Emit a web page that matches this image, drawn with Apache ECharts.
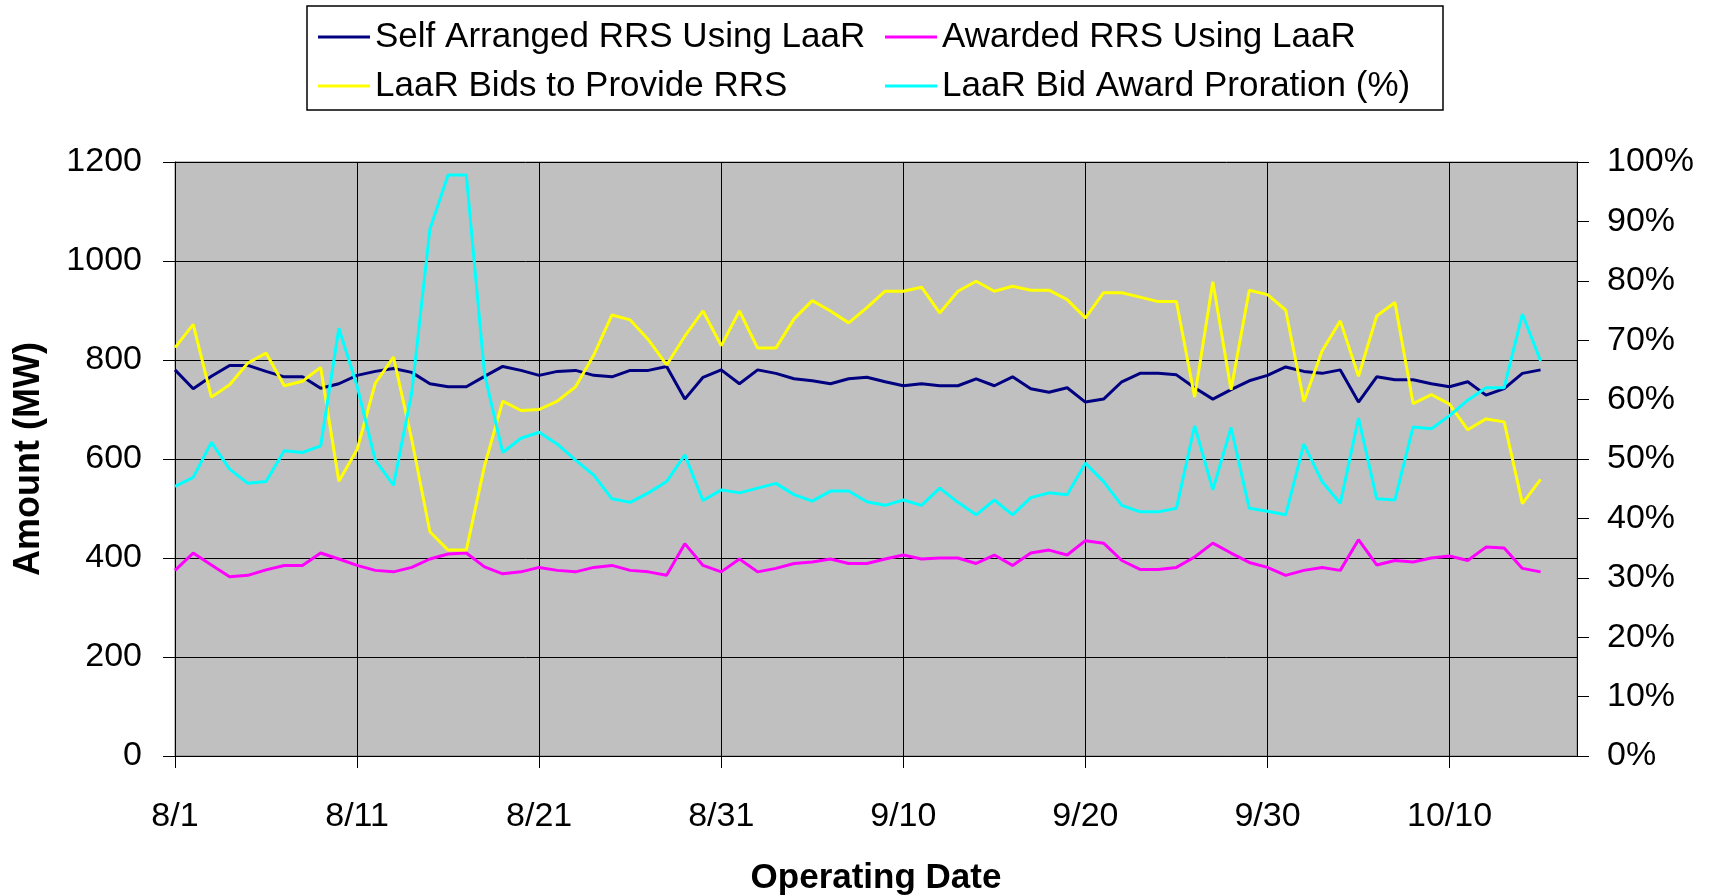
<!DOCTYPE html>
<html>
<head>
<meta charset="utf-8">
<title>LaaR RRS</title>
<script src="https://cdn.jsdelivr.net/npm/echarts@6/dist/echarts.min.js"></script>
<style>
  html, body { margin: 0; padding: 0; background: #fff; }
  #chart { width: 1717px; height: 896px; }
</style>
</head>
<body>
<div id="chart"></div>
<script>
// operating dates 8/1 .. 10/17 (axis runs two days past the last data point)
const monthDays = [[8, 31], [9, 30], [10, 17]]
const dates = []
monthDays.forEach(([m, n]) => {
  for (let d = 1; d <= n; d++) dates.push(m + '/' + d)
})

// MW, 8/1 .. 10/15
const selfArranged = [
  780, 742, 767, 789, 789, 777, 766, 766, 743, 752, 769, 777, 783, 775, 752, 746, 746, 767, 787, 779,
  769, 777, 779, 769, 766, 779, 779, 787, 721, 765, 780,
  752, 780, 773, 762, 758, 752, 762, 765, 756, 748, 752, 748, 748, 762, 748, 766, 742, 735, 744, 715,
  721, 756, 773, 773, 770, 744, 721, 740, 758, 769,
  786, 777, 773, 780, 715, 766, 760, 760, 752, 746, 756, 729, 742, 773, 780
]
const awarded = [
  375, 410, 386, 362, 365, 376, 385, 385, 410, 398, 385, 375, 372, 381, 398, 408, 410, 382, 368, 372,
  381, 375, 372, 381, 385, 375, 372, 365, 429, 385, 372,
  398, 372, 379, 389, 392, 398, 389, 389, 398, 406, 398, 400, 400, 389, 406, 385, 410, 416, 406, 435,
  430, 395, 377, 377, 381, 402, 430, 410, 391, 381,
  365, 375, 381, 375, 437, 386, 395, 392, 400, 404, 395, 422, 420, 379, 372
]
const bids = [
  825, 872, 725, 750, 794, 814, 748, 757, 785, 555, 619, 753, 806, 640, 453, 416, 416, 586, 717, 698,
  700, 717, 746, 810, 891, 881, 841, 790, 848, 899, 829,
  899, 824, 824, 883, 920, 899, 875, 906, 939, 939, 947, 895, 939, 959, 939, 949, 941, 941, 922, 885,
  936, 936, 927, 918, 918, 725, 958, 740, 941, 932,
  901, 716, 818, 879, 767, 889, 916, 712, 730, 711, 659, 681, 675, 510, 559
]
// percent, right axis
const proration = [
  45.4, 46.9, 52.8, 48.3, 45.9, 46.2, 51.4, 51.1, 52.2, 72.0, 62.3, 49.8, 45.6, 61.1, 88.7, 97.8, 97.8, 64.3, 51.1, 53.5,
  54.5, 52.5, 49.8, 47.3, 43.3, 42.7, 44.3, 46.2, 50.7, 43.0, 44.8,
  44.3, 45.1, 45.9, 44.0, 42.9, 44.6, 44.6, 42.8, 42.2, 43.1, 42.2, 45.1, 42.7, 40.6, 43.1, 40.6, 43.5, 44.3, 44.0, 49.3,
  46.2, 42.2, 41.1, 41.1, 41.7, 55.6, 44.8, 55.3, 41.7, 41.2,
  40.6, 52.5, 46.2, 42.5, 56.9, 43.3, 43.1, 55.4, 55.1, 57.3, 59.9, 62.0, 62.0, 74.4, 66.5
]

const font = 'Liberation Sans, Arial, sans-serif'

const chart = echarts.init(document.getElementById('chart'))

const legendBase = {
  orient: 'vertical',
  top: 17,
  padding: 0,
  icon: 'rect',
  itemWidth: 52,
  itemHeight: 3,
  itemGap: 9,
  selectedMode: false,
  textStyle: { fontSize: 35, lineHeight: 40, color: '#000', fontFamily: font }
}

const option = {
  animation: false,
  backgroundColor: '#fff',
  textStyle: { fontFamily: font },
  legend: [
    Object.assign({}, legendBase, { left: 318, data: ['Self Arranged RRS Using LaaR', 'LaaR Bids to Provide RRS'] }),
    Object.assign({}, legendBase, { left: 885, data: ['Awarded RRS Using LaaR', 'LaaR Bid Award Proration (%)'] })
  ],
  graphic: [{
    type: 'rect',
    shape: { x: 307, y: 6, width: 1136, height: 104 },
    style: { fill: 'none', stroke: '#000', lineWidth: 1.5 }
  }],
  grid: {
    left: 175, right: 140, top: 162, bottom: 140,
    outerBoundsMode: 'none',
    show: true,
    backgroundColor: '#C0C0C0',
    borderColor: '#808080',
    borderWidth: 1
  },
  xAxis: {
    type: 'category',
    data: dates,
    boundaryGap: false,
    name: 'Operating Date',
    nameLocation: 'middle',
    nameGap: 105,
    nameTextStyle: { fontSize: 35, fontWeight: 'bold', color: '#000', fontFamily: font },
    axisLine: { lineStyle: { color: '#000', width: 1 } },
    axisTick: { interval: 9, length: 12, lineStyle: { color: '#000' } },
    axisLabel: { interval: 9, margin: 44, fontSize: 34, color: '#000', fontFamily: font },
    splitLine: { show: true, interval: 9, lineStyle: { color: '#000', width: 1 } }
  },
  yAxis: [
    {
      type: 'value',
      min: 0, max: 1200, interval: 200,
      name: 'Amount (MW)',
      nameLocation: 'middle',
      nameGap: 128,
      nameTextStyle: { fontSize: 36, fontWeight: 'bold', color: '#000', fontFamily: font },
      axisLine: { show: true, lineStyle: { color: '#000', width: 1 } },
      axisTick: { show: true, length: 12, lineStyle: { color: '#000' } },
      axisLabel: {
        margin: 33, fontSize: 34, color: '#000', fontFamily: font,
        padding: [6, 0, 0, 0], formatter: v => String(v)
      },
      splitLine: { show: true, lineStyle: { color: '#000', width: 1 } }
    },
    {
      type: 'value',
      position: 'right',
      min: 0, max: 100, interval: 10,
      axisLine: { show: true, lineStyle: { color: '#000', width: 1 } },
      axisTick: { show: true, length: 12, lineStyle: { color: '#000' } },
      axisLabel: {
        margin: 30, fontSize: 34, color: '#000', fontFamily: font,
        padding: [6, 0, 0, 0], formatter: '{value}%'
      },
      splitLine: { show: false }
    }
  ],
  series: [
    {
      name: 'Self Arranged RRS Using LaaR', type: 'line', data: selfArranged,
      symbol: 'none', color: '#000080', lineStyle: { width: 3 }
    },
    {
      name: 'Awarded RRS Using LaaR', type: 'line', data: awarded,
      symbol: 'none', color: '#FF00FF', lineStyle: { width: 3 }
    },
    {
      name: 'LaaR Bids to Provide RRS', type: 'line', data: bids,
      symbol: 'none', color: '#FFFF00', lineStyle: { width: 3 }
    },
    {
      name: 'LaaR Bid Award Proration (%)', type: 'line', data: proration, yAxisIndex: 1,
      symbol: 'none', color: '#00FFFF', lineStyle: { width: 3 }
    }
  ]
}

chart.setOption(option)
</script>
</body>
</html>
